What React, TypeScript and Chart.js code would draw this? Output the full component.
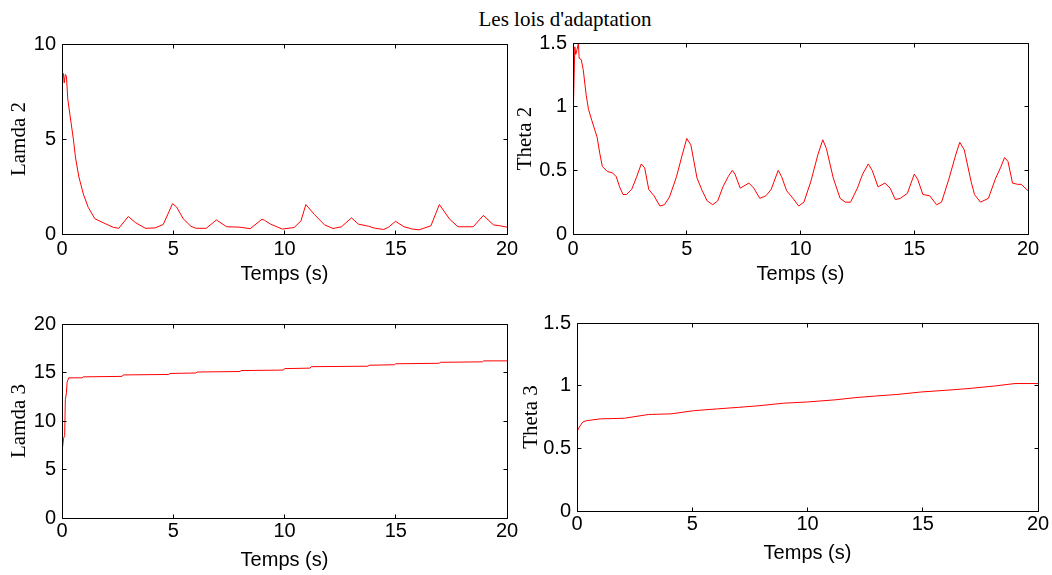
import React, { useEffect, useRef } from 'react';
import { Chart, registerables } from 'chart.js';

Chart.register(...registerables);

const SANS = '"Liberation Sans", Arial, sans-serif';
const SERIF = '"Liberation Serif", "Times New Roman", serif';

const chartTitle = "Les lois d'adaptation";
const xTitle = 'Temps (s)';
const xTickValues = [0, 5, 10, 15, 20];

// Lamda 2
const lamda2Time = [0, 0.02, 0.06, 0.1, 0.15, 0.2, 0.26, 0.36, 0.51, 0.61, 0.76, 0.96, 1.18, 1.48, 1.93, 2.31, 2.55, 2.98, 3.3, 3.75, 4.18, 4.55, 4.97, 5.15, 5.45, 5.8, 6.03, 6.48, 6.94, 7.4, 8.0, 8.46, 8.99, 9.1, 9.37, 9.9, 10.43, 10.74, 10.96, 11.34, 11.8, 12.18, 12.56, 13.01, 13.32, 13.77, 14.08, 14.46, 14.68, 14.99, 15.37, 15.75, 16.05, 16.58, 16.96, 17.42, 17.8, 18.48, 18.94, 19.39, 19.7, 20];
const lamda2Values = [5.0, 8.5, 8.45, 7.95, 8.4, 8.3, 7.1, 6.25, 5.0, 4.0, 3.0, 2.1, 1.4, 0.8, 0.55, 0.35, 0.3, 0.92, 0.6, 0.3, 0.32, 0.5, 1.6, 1.42, 0.8, 0.4, 0.3, 0.3, 0.74, 0.38, 0.36, 0.28, 0.78, 0.72, 0.52, 0.26, 0.34, 0.69, 1.55, 1.03, 0.48, 0.29, 0.38, 0.85, 0.52, 0.41, 0.3, 0.24, 0.36, 0.67, 0.38, 0.26, 0.22, 0.43, 1.55, 0.78, 0.38, 0.38, 0.98, 0.48, 0.43, 0.36];

// Theta 2
const theta2Time = [0, 0.02, 0.08, 0.12, 0.18, 0.24, 0.27, 0.36, 0.45, 0.58, 0.68, 0.83, 1.06, 1.18, 1.29, 1.52, 1.74, 1.9, 2.05, 2.2, 2.35, 2.58, 2.8, 3.0, 3.15, 3.33, 3.56, 3.82, 4.02, 4.24, 4.55, 4.8, 5.0, 5.18, 5.45, 5.68, 5.9, 6.14, 6.36, 6.59, 6.82, 7.0, 7.12, 7.35, 7.73, 7.95, 8.21, 8.48, 8.71, 9.02, 9.17, 9.39, 9.67, 9.92, 10.15, 10.45, 10.76, 10.98, 11.14, 11.44, 11.74, 11.97, 12.2, 12.5, 12.73, 12.98, 13.15, 13.41, 13.71, 13.94, 14.17, 14.39, 14.7, 15.0, 15.15, 15.38, 15.68, 15.98, 16.2, 16.52, 16.82, 17.0, 17.2, 17.5, 17.65, 17.91, 18.26, 18.56, 18.79, 18.97, 19.12, 19.32, 19.55, 19.7, 20];
const theta2Values = [0, 1.02, 1.47, 1.41, 1.45, 1.5, 1.38, 1.37, 1.29, 1.09, 0.98, 0.89, 0.76, 0.63, 0.53, 0.49, 0.48, 0.45, 0.37, 0.31, 0.31, 0.35, 0.45, 0.55, 0.52, 0.35, 0.3, 0.22, 0.23, 0.29, 0.45, 0.62, 0.75, 0.7, 0.44, 0.34, 0.26, 0.23, 0.26, 0.37, 0.45, 0.5, 0.47, 0.36, 0.4, 0.36, 0.28, 0.3, 0.35, 0.5, 0.45, 0.34, 0.28, 0.22, 0.25, 0.41, 0.62, 0.74, 0.67, 0.44, 0.28, 0.25, 0.25, 0.36, 0.47, 0.55, 0.5, 0.37, 0.4, 0.36, 0.27, 0.28, 0.32, 0.47, 0.43, 0.31, 0.3, 0.23, 0.25, 0.43, 0.62, 0.72, 0.66, 0.41, 0.31, 0.25, 0.28, 0.43, 0.52, 0.6, 0.57, 0.4, 0.39, 0.39, 0.34];

// Lamda 3
const lamda3Time = [0, 0.02, 0.07, 0.12, 0.15, 0.2, 0.23, 0.3, 0.9, 0.95, 2.7, 2.75, 4.8, 4.85, 6.0, 6.1, 8.0, 8.05, 9.95, 10.0, 11.15, 11.2, 13.75, 13.8, 14.95, 15.0, 16.95, 17.0, 18.9, 18.95, 20];
const lamda3Values = [0, 7.2, 8.2, 8.5, 12.2, 12.9, 14.0, 14.45, 14.45, 14.55, 14.6, 14.75, 14.8, 14.9, 14.95, 15.05, 15.1, 15.2, 15.25, 15.4, 15.45, 15.6, 15.65, 15.75, 15.8, 15.9, 15.95, 16.05, 16.1, 16.2, 16.2];

// Theta 3
const theta3Time = [0, 0.02, 0.1, 0.25, 0.4, 1.0, 2.05, 3.1, 4.08, 5.05, 6.1, 7.0, 7.9, 8.95, 10, 11.2, 12.1, 13, 13.9, 14.95, 16, 17.05, 18.1, 19, 20];
const theta3Values = [0, 0.64, 0.67, 0.71, 0.72, 0.735, 0.74, 0.77, 0.775, 0.8, 0.815, 0.827, 0.84, 0.86, 0.87, 0.887, 0.905, 0.918, 0.93, 0.95, 0.963, 0.978, 0.997, 1.017, 1.017];

type Panel = {
  name: string;
  time: number[];
  values: number[];
  yMax: number;
  yStep: number;
  yTitle: string;
  left: number;
  top: number;
  width: number;
  height: number;
  axisW: number;
  padTop: number;
  padRight: number;
  axisH: number;
  yTitlePad: number;
  xTickPad: number;
  xTitlePad: number;
};

const panels: Panel[] = [
  { name: 'l2', time: lamda2Time, values: lamda2Values, yMax: 10, yStep: 5, yTitle: 'Lamda 2',
    left: 0, top: 26, width: 535, height: 264, axisW: 62, padTop: 15, padRight: 28, axisH: 56, yTitlePad: 7, xTickPad: 3, xTitlePad: 3.5 },
  { name: 't2', time: theta2Time, values: theta2Values, yMax: 1.5, yStep: 0.5, yTitle: 'Theta 2',
    left: 510, top: 25, width: 542, height: 265, axisW: 63, padTop: 15, padRight: 24, axisH: 56, yTitlePad: 3, xTickPad: 3, xTitlePad: 3.5 },
  { name: 'l3', time: lamda3Time, values: lamda3Values, yMax: 20, yStep: 5, yTitle: 'Lamda 3',
    left: 0, top: 306, width: 535, height: 268, axisW: 62, padTop: 15, padRight: 28, axisH: 56, yTitlePad: 7, xTickPad: 1, xTitlePad: 2 },
  { name: 't3', time: theta3Time, values: theta3Values, yMax: 1.5, yStep: 0.5, yTitle: 'Theta 3',
    left: 515, top: 305, width: 537, height: 262, axisW: 62, padTop: 15, padRight: 14, axisH: 56, yTitlePad: 4, xTickPad: 1, xTitlePad: 2 },
];

const framePlugin = {
  id: 'matlabFrame',
  afterDraw(chart: any) {
    const { ctx, chartArea: a } = chart;
    const xs = chart.scales.x;
    const ys = chart.scales.y;
    const f = (v: number) => Math.floor(v) + 0.5;
    const L = f(a.left), R = f(a.right), T = f(a.top), B = f(a.bottom);
    const tl = 4;
    ctx.save();
    ctx.strokeStyle = '#000';
    ctx.lineWidth = 1;
    ctx.beginPath();
    ctx.rect(L, T, R - L, B - T);
    for (const t of xs.ticks) {
      const px = f(xs.getPixelForValue(t.value));
      ctx.moveTo(px, B); ctx.lineTo(px, B - tl);
      ctx.moveTo(px, T); ctx.lineTo(px, T + tl);
    }
    for (const t of ys.ticks) {
      const py = f(ys.getPixelForValue(t.value));
      ctx.moveTo(L, py); ctx.lineTo(L + tl, py);
      ctx.moveTo(R, py); ctx.lineTo(R - tl, py);
    }
    ctx.stroke();
    ctx.restore();
  },
};

function PanelChart({ p }: { p: Panel }) {
  const ref = useRef<HTMLCanvasElement | null>(null);
  useEffect(() => {
    if (!ref.current) return;
    const chart = new Chart(ref.current, {
      type: 'line',
      data: {
        datasets: [
          {
            data: p.time.map((t, i) => ({ x: t, y: p.values[i] })),
            borderColor: '#ff0000',
            borderWidth: 1,
            pointRadius: 0,
            tension: 0,
            fill: false,
          },
        ],
      },
      options: {
        animation: false,
        responsive: false,
        devicePixelRatio: 1,
        layout: { padding: { top: p.padTop, right: p.padRight, left: 0, bottom: 0 } },
        plugins: { legend: { display: false }, tooltip: { enabled: false }, title: { display: false } },
        scales: {
          x: {
            type: 'linear',
            min: 0,
            max: 20,
            grid: { display: false, drawTicks: false },
            border: { display: false },
            afterBuildTicks: (s: any) => { s.ticks = xTickValues.map((v) => ({ value: v })); },
            ticks: {
              color: '#000',
              font: { family: SANS, size: 20 },
              padding: p.xTickPad,
              maxRotation: 0,
              autoSkip: false,
              callback: (v: any) => String(v),
            },
            title: {
              display: true,
              text: xTitle,
              color: '#000',
              font: { family: SANS, size: 20, lineHeight: 1.2 },
              padding: { top: 0, bottom: p.xTitlePad },
            },
            afterFit: (s: any) => { s.height = p.axisH; },
          },
          y: {
            type: 'linear',
            min: 0,
            max: p.yMax,
            grid: { display: false, drawTicks: false },
            border: { display: false },
            ticks: {
              stepSize: p.yStep,
              color: '#000',
              font: { family: SANS, size: 20 },
              padding: 6,
              autoSkip: false,
              callback: (v: any) => String(Math.round(v * 100) / 100),
            },
            title: {
              display: true,
              text: p.yTitle,
              color: '#000',
              font: { family: SERIF, size: 21, lineHeight: 1.2 },
              padding: { top: p.yTitlePad, bottom: 0 },
            },
            afterFit: (s: any) => { s.width = p.axisW; },
          },
        },
      },
      plugins: [framePlugin],
    } as any);
    return () => chart.destroy();
  }, [p]);
  return (
    <canvas
      ref={ref}
      width={p.width}
      height={p.height}
      style={{ position: 'absolute', left: p.left, top: p.top, width: p.width, height: p.height }}
    />
  );
}

export default function App() {
  return (
    <div style={{ position: 'absolute', left: 0, top: 0, width: 1052, height: 575, background: '#fff', overflow: 'hidden' }}>
      <div
        style={{
          position: 'absolute',
          left: 365,
          top: 7,
          width: 400,
          textAlign: 'center',
          fontFamily: SERIF,
          fontSize: 21,
          lineHeight: '24px',
          color: '#000',
          whiteSpace: 'nowrap',
        }}
      >
        {chartTitle}
      </div>
      {panels.map((p) => (
        <PanelChart key={p.name} p={p} />
      ))}
    </div>
  );
}
